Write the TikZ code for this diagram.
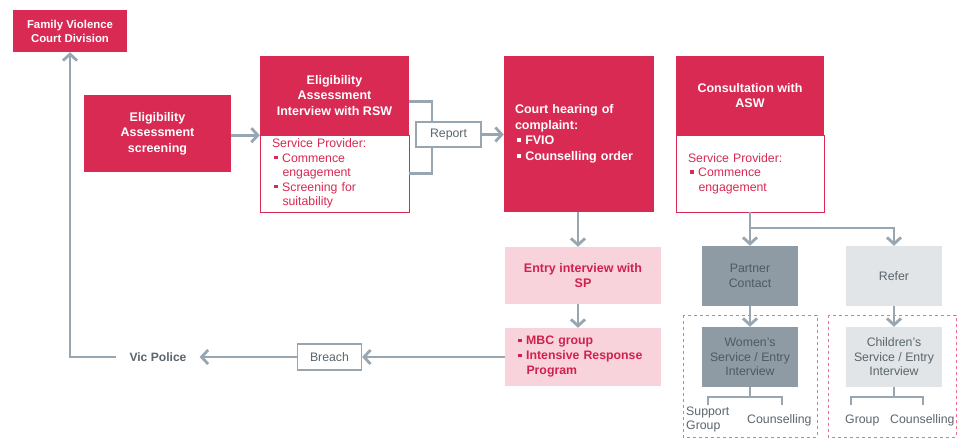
\documentclass[tikz,border=0pt]{standalone}
\usepackage{fontspec}
\setmainfont{Liberation Sans}
\usetikzlibrary{arrows.meta}
\definecolor{cred}{HTML}{D82A52}
\definecolor{cpink}{HTML}{F9D3DC}
\definecolor{cpinktext}{HTML}{D0214C}
\definecolor{cline}{HTML}{97A6B0}
\definecolor{cdark}{HTML}{8E9BA4}
\definecolor{cdarktext}{HTML}{4E5A62}
\definecolor{clight}{HTML}{E2E5E7}
\definecolor{cgreytext}{HTML}{5A656C}
\definecolor{cdash}{HTML}{E8718F}
\newcommand\sqb{\hspace{2pt}\rule[0.22em]{0.3em}{0.3em}\hspace{4.5pt}}
\newcommand\hang{\hspace{10.5pt}}
\newcommand\ttl{\fontsize{12.5}{15.5}\selectfont\bfseries}
\newcommand\bdy{\fontsize{12.3}{14.5}\selectfont}
\begin{document}
\begin{tikzpicture}[x=1pt,y=-1pt,
  redbox/.style={fill=cred, text=white, inner sep=0pt, align=center, font=\ttl},
  spbox/.style={draw=cred, line width=0.8pt, fill=white, text=cred, inner sep=0pt, font=\bdy},
  pinkbox/.style={fill=cpink, text=cpinktext, inner sep=0pt, font=\ttl},
  darkbox/.style={fill=cdark, text=cdarktext, inner sep=0pt, align=center, font=\bdy, minimum width=96, minimum height=60},
  lightbox/.style={fill=clight, text=cgreytext, inner sep=0pt, align=center, font=\bdy, minimum width=96, minimum height=60},
  tagbox/.style={draw=cline, line width=1.2pt, fill=white, text=cgreytext, font=\bdy, inner sep=0pt},
  arr/.style={draw=cline, line width=2.8pt, -{Straight Barb[length=6.5pt,width=14pt]}},
  plainline/.style={draw=cline, line width=2.8pt},
  treeline/.style={draw=cline, line width=1.6pt},
  dashbox/.style={draw=cdash, line width=1pt, dashed},
  lbl/.style={text=cgreytext, font=\bdy, inner sep=0pt, align=left}
]
\useasboundingbox (0,0) rectangle (958,441);

% dashed groups
\draw[dashbox] (683,315) rectangle (817,437);
\draw[dashbox] (828,315) rectangle (956,437);

% nodes
\node[redbox, minimum width=114, minimum height=42, font=\fontsize{11.4}{14}\selectfont\bfseries] (fvcd) at (70,31) {Family Violence\\Court Division};
\node[redbox, minimum width=147, minimum height=77] (eas) at (157.5,133.5) {Eligibility\\Assessment\\screening};
\node[redbox, minimum width=149, minimum height=79] (eai) at (334.5,95.5) {Eligibility\\Assessment\\Interview with RSW};
\node[spbox, minimum width=149, minimum height=77, text width=125, align=left] (eaisp) at (334.5,173.5) {Service Provider:\\\sqb Commence\\\hang engagement\\\sqb Screening for\\\hang suitability};
\node[redbox, minimum width=150, minimum height=156, text width=128, align=left] (court) at (579,134) {Court hearing of\\complaint:\\\sqb FVIO\\\sqb Counselling order};
\node[redbox, minimum width=148, minimum height=79] (asw) at (750,95.5) {Consultation with\\ASW};
\node[spbox, minimum width=148, minimum height=77, text width=124, align=left] (aswsp) at (750,173.5) {Service Provider:\\\sqb Commence\\\hang engagement};
\node[pinkbox, minimum width=156, minimum height=57, align=center] (entry) at (583,275.5) {Entry interview with\\SP};
\node[pinkbox, minimum width=156, minimum height=58, text width=134, align=left, font=\fontsize{12.3}{15}\selectfont\bfseries] (mbc) at (583,357) {\sqb MBC group\\\sqb Intensive Response\\\hang Program};
\node[darkbox] (partner) at (750,276) {Partner\\Contact};
\node[lightbox] (refer) at (894,276) {Refer};
\node[darkbox] (women) at (750,357) {Women's\\Service / Entry\\Interview};
\node[lightbox] (children) at (894,357) {Children's\\Service / Entry\\Interview};
\node[text=cgreytext, font=\fontsize{12.1}{14}\selectfont\bfseries, inner xsep=13pt, inner ysep=4pt] (vic) at (158,357) {Vic Police};

% report bracket
\coordinate (brk) at (432,134);
\draw[plainline] ([yshift=-6pt]eai.east) -| (brk) |- (eaisp.east);
\node[tagbox, minimum width=65, minimum height=25] (rep) at (448.5,134.5) {Report};
\node[tagbox, minimum width=64, minimum height=26] (breach) at (329.5,357) {Breach};

% arrows
\draw[arr] (eas.east |- eai.south) -- (eai.south west);
\draw[arr] (rep.east) -- (rep.east -| court.west);
\draw[arr] ([xshift=-1pt]court.south) -- ([xshift=-1pt]court.south |- entry.north);
\draw[arr] ([xshift=-5pt]entry.south) -- ([xshift=-5pt]entry.south |- mbc.north);
\draw[arr] (mbc.west) -- (breach.east);
\draw[arr] (breach.west) -- (vic.east);
\draw[arr] (vic.west) -| (fvcd.south);
\coordinate (split) at (750,228);
\draw[arr] (aswsp.south) -- (partner.north);
\draw[arr] (split) -| (refer.north);
\draw[arr] (partner.south) -- (women.north);
\draw[arr] (refer.south) -- (children.north);

% trees
\coordinate (wm) at (750,397);
\coordinate (wl) at (708,405);
\coordinate (wr) at (782,405);
\draw[treeline] (women.south) -- (wm);
\draw[treeline] (wl) -- (wl |- wm) -- (wr |- wm) -- (wr);
\coordinate (cm) at (894,397);
\coordinate (cl) at (851,405);
\coordinate (cr) at (923,405);
\draw[treeline] (children.south) -- (cm);
\draw[treeline] (cl) -- (cl |- cm) -- (cr |- cm) -- (cr);

\node[lbl, anchor=north west, font=\fontsize{12.3}{13.5}\selectfont] (sg) at (686,407) {Support\\Group};
\node[lbl, anchor=west] (wc) at (747,420) {Counselling};
\node[lbl, anchor=west] (cg) at (845,420) {Group};
\node[lbl, anchor=west] (cc) at (890,420) {Counselling};
\end{tikzpicture}
\end{document}
